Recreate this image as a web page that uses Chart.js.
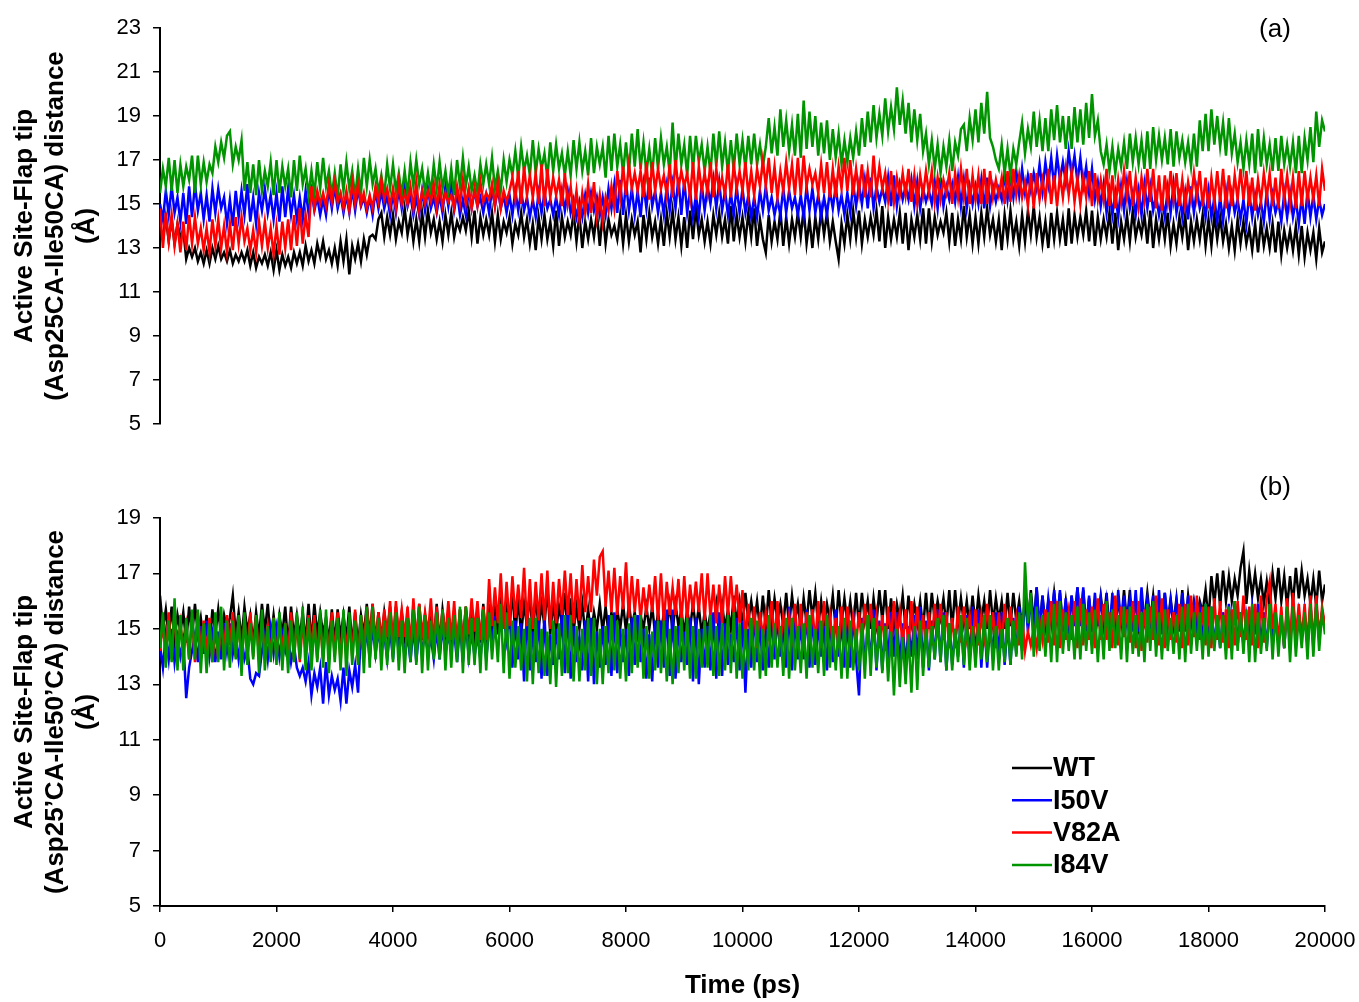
<!DOCTYPE html>
<html lang="en">
<head>
<meta charset="UTF-8">
<title>Active Site-Flap tip distance</title>
<script src="https://cdn.jsdelivr.net/npm/chart.js"></script>
<style>
    body { margin: 0; background: #fff; }
    #wrap { position: relative; width: 1359px; height: 1002px; }
    canvas { position: absolute; left: 0; }
    #chartA { top: 0; }
    #chartB { top: 470px; }
</style>
</head>
<body>
<div id="wrap">
    <canvas id="chartA" width="1359" height="470"></canvas>
    <canvas id="chartB" width="1359" height="532"></canvas>
</div>
<script>
// series names and colours (legend order)
const names = ['WT', 'I50V', 'V82A', 'I84V'];
const colors = ['#000000', '#0000ff', '#ff0000', '#009400'];

// sampling time, ps (one point every 50 ps, one row = 2000 ps)
const time = [];
for (let t = 0; t <= 20000; t += 50) time.push(t);

// panel (a): Asp25CA-Ile50CA distance
const wtA = [
14.0,13.4,14.4,13.3,14.3,13.2,14.1,13.5,13.8,12.5,13.0,12.6,13.0,12.4,12.8,12.3,12.9,12.3,13.0,12.5,13.1,12.5,12.8,12.4,12.9,12.3,12.7,12.4,12.8,12.4,12.9,12.2,12.8,12.1,12.6,12.3,12.7,12.2,12.8,12.0,
12.9,12.0,12.7,12.2,12.6,12.1,12.8,12.3,12.8,12.2,13.1,12.4,12.9,12.3,13.2,12.6,13.3,12.5,12.9,12.3,13.0,12.2,13.3,12.4,13.4,11.8,13.1,12.5,13.2,12.4,13.4,12.7,13.5,13.6,13.4,14.3,14.6,13.5,14.4,13.6,
14.5,13.4,14.2,13.7,14.8,13.6,14.4,13.3,14.3,13.3,14.6,13.5,14.7,13.7,14.3,13.4,14.2,13.3,14.5,13.6,14.6,13.5,14.2,13.8,14.4,13.8,14.7,13.5,14.7,13.2,14.4,13.6,14.3,13.6,14.6,13.3,14.5,13.4,14.2,13.7,
14.4,13.2,14.1,13.6,14.6,13.5,14.3,13.2,14.1,12.9,14.4,13.4,14.5,13.4,14.2,13.1,14.7,13.1,14.4,13.5,14.2,13.6,14.6,13.3,14.5,13.0,14.2,13.4,14.3,13.5,14.6,13.1,14.6,13.2,14.3,13.6,14.0,13.4,14.5,13.2,
14.5,13.3,14.3,13.6,14.2,12.8,14.5,13.4,14.6,13.5,14.2,13.2,14.3,13.1,14.6,13.5,14.7,13.4,14.4,13.1,14.4,13.0,14.7,13.4,14.8,13.6,14.3,13.3,14.2,13.2,14.5,13.6,14.6,13.5,14.3,13.2,14.9,13.3,14.5,13.5,
14.4,13.3,14.6,13.5,14.8,13.1,14.3,13.4,12.8,14.5,13.3,14.2,13.4,14.7,13.1,14.4,13.2,14.3,13.5,14.6,13.5,14.8,13.2,14.3,13.0,14.4,13.4,14.7,13.6,14.6,13.3,14.2,13.3,12.5,14.1,13.2,14.5,13.4,14.7,13.5,
14.7,13.2,14.3,13.5,14.4,13.6,14.7,13.3,14.9,13.0,14.4,13.4,14.3,13.5,14.6,13.2,14.6,12.9,14.3,13.5,14.5,13.4,14.8,13.2,14.8,13.3,14.4,13.6,14.2,13.7,14.6,13.3,14.6,13.1,14.3,13.4,14.9,13.5,14.5,13.2,
14.4,13.2,14.6,13.5,14.8,13.6,14.3,13.3,14.3,12.9,14.5,13.4,14.7,13.4,14.2,13.1,14.5,13.3,14.7,13.6,14.9,13.5,14.4,13.2,14.2,13.0,14.6,13.4,14.6,13.4,14.3,13.1,14.8,13.2,14.5,13.5,14.4,13.6,14.7,13.3,
14.7,13.1,14.4,13.4,14.3,13.5,14.6,13.2,14.6,12.9,14.2,13.4,14.5,13.3,14.7,13.5,14.2,13.6,14.5,13.2,14.7,13.0,14.3,13.4,14.4,13.4,14.6,13.1,14.1,13.2,14.4,13.5,14.5,12.9,14.2,13.3,14.3,13.4,14.5,13.1,
14.3,13.1,14.5,13.4,14.4,13.3,14.1,13.0,14.0,12.9,14.3,13.2,14.2,13.2,13.9,12.9,14.1,12.8,14.2,13.1,13.9,13.0,14.1,12.8,14.2,12.7,13.8,13.0,13.8,12.9,14.0,12.7,14.0,12.6,13.7,12.9,13.7,12.5,13.9,12.8,
13.3];
const i50vA = [
15.0,14.3,15.6,14.5,15.8,14.6,15.3,14.2,15.5,14.1,15.8,14.4,15.9,14.7,15.5,14.3,15.4,14.2,15.7,14.6,15.7,14.8,15.3,14.1,15.2,14.0,15.6,14.4,15.6,14.5,15.9,14.2,15.3,14.1,15.5,14.7,15.7,14.6,15.4,14.3,
15.5,14.2,15.8,14.4,15.7,14.5,15.4,14.3,15.3,14.3,15.6,14.6,15.6,14.7,15.3,14.5,15.2,14.5,15.7,14.8,15.8,14.8,15.4,14.6,15.4,14.6,15.7,14.7,15.7,14.9,15.3,14.6,15.3,14.5,15.6,14.8,15.6,14.8,15.4,14.5,
15.5,14.6,15.7,14.8,15.8,14.9,15.4,14.5,15.3,14.5,15.6,14.7,15.7,14.8,15.3,14.6,15.4,14.6,15.8,14.9,15.9,14.7,15.5,14.5,15.2,14.5,15.6,14.8,15.6,14.9,15.3,14.6,15.4,14.6,15.7,14.9,15.7,14.8,15.4,14.6,
15.4,14.5,15.6,14.7,15.6,14.7,15.3,14.4,15.2,14.4,15.5,14.6,15.5,14.8,15.2,14.5,15.3,14.5,15.6,14.7,15.6,14.6,15.2,14.4,15.1,14.4,15.4,14.6,15.5,14.7,15.3,14.5,15.3,14.5,15.7,14.8,15.9,14.6,16.1,14.5,
16.0,14.7,15.7,14.5,15.6,14.4,15.9,14.8,16.2,14.9,15.6,14.6,15.5,14.5,15.8,14.7,15.9,14.8,16.2,14.5,16.1,14.6,15.6,14.4,15.4,14.4,15.9,14.7,15.8,15.0,16.1,14.8,16.0,14.7,15.6,14.5,15.5,14.5,15.8,14.6,
15.7,14.6,15.4,14.4,15.3,14.4,15.6,14.7,15.8,14.7,15.3,14.5,15.2,14.5,15.7,14.6,15.6,14.8,15.3,14.5,15.4,14.4,15.8,14.7,15.7,14.6,15.4,14.4,15.3,14.5,15.6,14.8,15.8,14.7,15.4,14.5,15.5,14.6,15.9,14.9,
15.9,15.0,16.1,14.8,16.2,14.8,15.8,15.1,15.7,15.1,16.2,14.9,16.3,14.9,15.9,15.2,15.8,15.2,16.1,14.9,16.0,14.8,15.7,15.1,15.6,15.0,16.0,14.8,16.2,14.9,15.8,15.2,15.9,15.1,16.2,14.9,16.1,14.8,15.8,15.0,
15.8,15.0,16.1,14.8,16.2,14.9,15.8,15.1,15.7,15.2,16.4,15.2,16.3,15.3,16.5,15.4,16.6,15.5,16.3,15.6,16.4,15.7,16.8,15.6,16.9,15.9,17.1,15.8,17.2,16.1,16.9,16.0,17.4,16.3,17.2,16.0,17.1,15.8,16.7,15.5,
16.6,15.2,16.0,14.9,15.9,14.6,15.6,14.5,15.5,14.4,15.8,14.7,16.0,14.8,15.5,14.5,15.6,14.5,15.9,14.8,15.8,14.7,15.4,14.5,15.3,14.4,15.7,14.6,15.9,14.6,15.4,14.4,15.5,14.3,15.8,14.6,15.7,14.8,15.3,14.4,
15.6,14.4,15.3,14.2,15.3,14.2,15.6,14.5,15.5,14.6,15.2,14.3,15.2,14.1,15.5,14.4,15.4,14.5,15.1,14.2,15.6,14.3,15.4,14.6,15.1,14.2,15.5,14.4,15.5,14.4,15.2,14.1,15.3,14.1,15.6,14.4,15.4,14.3,15.2,14.5,
15.0];
const v82aA = [
14.8,13.0,14.6,13.3,14.5,13.1,14.1,12.8,14.2,12.9,14.5,13.2,14.4,13.2,13.9,12.9,13.9,12.8,14.3,13.1,14.3,13.0,14.0,12.8,14.1,12.9,14.4,13.2,14.4,13.3,13.9,12.9,13.8,12.8,14.2,13.1,14.2,13.0,13.9,12.7,
14.0,12.7,14.2,13.0,14.3,12.9,14.5,13.1,14.8,13.2,14.5,13.5,15.8,14.8,15.6,15.0,15.5,14.9,15.9,15.1,16.0,15.1,15.5,14.8,15.6,14.7,16.0,15.0,15.9,15.0,15.5,14.8,15.4,14.8,15.8,15.1,16.1,15.2,15.7,14.9,
15.7,14.8,16.0,15.0,15.5,15.0,15.8,14.8,16.0,14.7,15.6,15.0,15.6,15.1,15.9,14.8,15.9,14.9,15.5,15.1,15.4,14.8,15.8,15.0,16.1,15.0,15.7,14.8,15.7,14.9,16.0,15.1,15.5,15.2,15.9,14.9,16.0,14.8,15.6,15.1,
15.6,16.2,15.2,16.5,15.0,16.7,15.4,16.3,15.3,16.4,15.0,16.8,14.9,16.6,15.3,16.2,15.4,16.1,14.9,16.4,15.0,15.8,14.5,15.6,14.3,15.5,14.6,15.9,14.6,16.0,14.4,15.4,14.2,15.3,14.7,15.8,14.8,16.5,15.3,16.7,
15.4,16.8,15.7,16.4,15.6,16.5,15.3,16.9,15.2,16.9,15.6,16.6,15.7,16.3,15.4,16.8,15.3,17.0,15.7,16.5,15.8,16.4,15.3,16.9,15.2,16.7,15.6,16.4,15.5,16.9,15.3,16.6,15.6,16.2,15.4,16.8,15.3,16.8,15.7,16.5,
15.6,16.9,15.4,16.5,15.4,16.6,15.8,17.0,15.8,17.1,15.5,16.7,15.3,16.5,15.6,16.9,15.7,16.8,15.4,17.1,15.4,17.2,15.8,16.6,15.9,16.4,15.5,16.8,15.5,16.9,15.3,16.6,15.3,16.7,15.7,17.1,15.6,17.0,15.4,16.6,
15.5,16.8,15.3,16.5,15.3,17.2,15.6,16.7,15.7,16.4,15.2,16.5,15.1,16.2,15.4,16.4,15.4,16.6,15.1,16.3,15.0,16.3,15.4,16.5,15.5,16.5,15.1,16.2,15.2,16.1,15.5,16.4,15.0,16.4,15.3,16.6,15.3,16.6,15.0,16.3,
15.2,16.3,15.0,16.6,15.0,16.5,15.3,16.1,15.4,16.2,15.0,16.5,15.1,16.6,15.4,16.3,15.3,16.0,14.9,16.4,14.8,16.4,15.2,16.1,15.2,16.6,15.0,16.3,14.9,16.3,15.3,16.6,15.4,16.5,15.1,16.2,15.0,16.2,15.3,16.5,
14.9,16.4,15.2,16.1,15.2,16.6,14.9,16.3,14.8,16.1,15.1,16.5,15.3,16.5,14.9,16.2,14.9,16.2,15.2,16.6,15.1,16.6,14.8,16.3,14.7,16.3,15.1,16.5,15.2,16.4,14.9,16.1,14.9,16.0,15.2,16.4,15.3,16.5,14.9,16.2,
14.8,16.2,15.1,16.5,15.1,16.6,14.8,16.3,14.9,16.3,15.2,16.6,15.2,16.5,14.9,16.2,14.7,16.1,15.1,16.4,15.3,16.4,14.9,16.2,14.8,16.6,15.2,16.3,15.0,16.2,14.8,16.5,14.9,16.5,15.2,16.2,15.2,16.3,14.9,16.6,
15.6];
const i84vA = [
15.5,16.6,15.8,17.1,15.6,17.0,15.5,16.8,15.8,16.7,16.1,17.2,15.5,17.2,15.9,16.9,16.0,16.8,16.4,17.6,16.9,17.8,17.1,18.1,18.3,16.8,17.6,17.0,17.9,15.6,16.9,15.5,16.8,15.4,17.0,15.6,16.5,15.8,16.9,15.4,
17.0,15.5,16.7,15.8,16.6,15.3,17.0,15.6,17.2,15.9,16.6,15.4,16.5,15.4,16.9,15.7,17.1,15.8,16.5,15.4,16.4,15.3,16.8,15.6,16.9,15.7,16.5,15.3,16.6,15.5,17.1,15.8,17.0,15.9,16.6,15.5,16.3,15.4,16.8,15.7,
16.8,15.6,16.4,15.4,16.5,15.4,16.9,15.8,17.0,15.9,16.6,15.5,16.4,15.5,16.8,15.7,16.9,15.7,16.5,15.4,16.6,15.4,17.0,15.8,17.1,15.8,16.7,15.6,16.3,15.5,16.8,15.9,16.8,15.9,17.1,15.7,16.5,15.6,17.0,16.0,
17.0,16.3,17.4,16.2,17.6,16.5,17.2,16.3,17.9,16.4,17.5,16.6,17.3,16.2,17.8,16.5,17.7,16.6,17.3,16.3,17.4,16.3,17.9,16.6,17.8,16.5,17.4,16.3,18.0,16.4,17.6,16.8,17.6,16.2,18.1,16.5,18.2,16.7,17.7,16.4,
17.8,16.4,18.2,16.7,18.4,16.6,17.8,16.4,17.5,16.3,18.0,16.6,18.0,16.8,17.6,16.4,18.7,16.5,18.2,16.8,17.7,16.3,18.1,16.6,18.1,16.9,17.7,16.5,17.6,16.4,18.2,16.7,18.3,16.7,17.8,16.4,17.9,16.5,18.2,16.8,
17.9,16.6,18.1,16.8,18.2,16.8,17.7,16.7,17.6,18.9,17.3,18.5,17.2,19.3,17.6,18.8,17.4,18.6,17.2,19.1,17.1,19.7,17.5,19.2,17.6,19.0,17.2,18.7,17.3,18.8,17.0,18.4,17.1,18.2,16.8,17.9,16.9,18.0,17.1,18.3,
17.2,18.9,17.6,19.2,17.8,19.5,18.0,19.1,18.1,19.8,18.3,19.4,18.4,20.3,18.6,19.7,18.2,19.6,17.8,19.3,17.9,19.1,17.4,18.2,16.8,17.9,16.6,17.7,16.4,17.6,16.7,17.9,16.5,17.8,17.2,18.4,18.6,17.4,18.9,17.9,
19.3,17.8,19.6,18.2,20.1,18.0,17.6,17.0,16.6,17.7,16.4,17.5,16.3,17.5,16.8,17.8,18.7,17.3,18.4,17.6,19.2,17.6,18.8,17.4,18.9,17.4,19.3,17.9,19.5,17.8,19.0,17.5,19.0,17.5,19.4,17.8,19.3,17.7,19.6,18.0,
20.0,18.1,18.8,17.4,16.8,17.7,16.5,17.6,16.4,17.5,16.7,17.8,16.6,18.2,16.9,18.0,16.8,17.9,16.6,18.3,16.6,18.5,17.0,18.1,17.0,18.0,16.8,18.4,16.7,18.3,17.1,17.9,16.9,17.8,16.7,18.2,16.7,18.8,17.4,19.1,
17.4,19.3,17.7,19.0,17.6,18.7,17.2,18.9,17.3,18.2,16.9,17.8,16.6,17.9,16.8,18.2,16.4,18.4,16.7,18.0,16.8,17.7,16.5,18.0,16.5,18.1,16.8,17.7,16.7,17.8,16.4,18.1,16.4,18.0,17.0,18.5,16.9,19.2,17.6,18.8,
18.3];

// panel (b): Asp25'CA-Ile50'CA distance
const wtB = [
16.2,15.0,15.7,14.7,15.8,14.6,15.5,14.9,15.6,14.5,15.8,14.7,15.9,14.8,15.4,14.5,15.5,14.4,15.7,14.8,15.7,14.7,15.5,15.0,15.4,16.2,14.8,15.6,14.6,15.8,14.9,15.5,14.5,15.6,14.7,15.9,14.9,15.9,14.6,15.5,
14.6,15.5,14.8,15.8,14.4,15.8,14.7,15.5,14.7,15.6,14.5,15.9,14.5,15.9,14.8,15.6,14.8,15.4,14.5,15.7,14.5,15.7,14.7,15.5,14.6,15.8,14.4,15.6,14.4,15.5,14.8,15.9,14.7,15.9,14.5,15.6,14.6,15.6,14.8,15.8,
14.5,15.8,14.7,15.6,14.7,15.5,14.4,15.8,14.4,15.9,14.6,15.5,14.8,15.6,14.5,15.9,14.5,15.7,14.8,15.5,14.6,15.4,14.4,15.7,14.5,15.8,14.7,15.6,14.7,15.6,14.5,15.9,14.4,15.9,14.8,15.7,14.8,16.3,15.0,16.0,
15.0,16.4,14.8,16.1,14.8,15.9,15.1,16.3,14.7,16.2,15.0,15.9,15.1,16.5,14.8,16.0,14.9,15.8,15.2,16.3,14.7,16.1,14.9,15.8,15.0,15.9,14.8,15.7,14.8,15.6,15.0,15.9,14.9,15.8,14.8,15.6,14.8,15.7,15.0,15.9,
14.9,15.9,15.1,15.6,14.8,15.5,15.0,15.8,15.0,15.8,14.8,15.6,14.8,15.6,15.0,15.9,14.9,15.9,15.1,15.7,14.8,15.7,15.0,15.9,15.0,15.8,14.8,15.6,14.9,15.6,15.1,15.9,14.8,15.9,15.0,15.7,15.0,16.2,15.2,16.0,
15.1,16.3,15.3,16.0,15.2,16.0,15.0,16.2,15.0,16.4,15.2,16.1,15.3,15.9,15.1,16.3,15.1,16.2,15.3,15.9,15.0,16.1,15.2,16.4,15.4,16.3,15.1,16.0,15.1,15.9,15.3,16.2,15.0,16.4,15.2,16.1,15.2,16.0,15.0,16.3,
15.1,16.3,15.3,16.0,15.0,16.1,15.2,16.4,15.3,16.4,15.0,16.1,15.1,15.9,15.3,16.2,15.0,16.2,15.2,15.9,15.2,16.0,15.0,16.3,15.0,16.3,15.3,16.0,15.4,16.1,15.1,16.4,15.0,16.4,15.2,16.1,15.2,16.0,15.0,16.2,
15.1,16.2,15.3,16.0,15.0,16.4,15.2,16.1,15.3,16.0,15.0,16.3,15.1,16.3,15.3,16.0,15.0,16.1,15.2,16.4,15.2,16.5,15.0,16.2,15.1,16.0,15.3,16.3,15.3,16.3,15.1,16.0,15.0,16.2,15.2,16.5,15.2,16.4,15.0,16.1,
15.1,16.0,15.3,16.2,15.3,16.3,15.0,16.0,15.0,16.1,15.2,16.4,15.2,16.4,15.0,16.1,15.1,16.0,15.3,16.3,15.3,16.2,15.1,16.0,15.0,16.3,15.2,16.1,15.2,16.1,15.0,16.4,15.0,16.2,15.3,16.0,15.4,16.0,15.6,16.4,
15.3,16.9,15.9,17.0,15.8,17.1,16.0,16.9,16.0,16.8,16.2,17.2,17.8,15.9,17.1,16.2,17.0,16.1,16.8,15.9,16.7,15.8,17.0,16.1,17.2,16.0,16.9,15.8,16.9,15.9,17.2,16.1,17.1,16.2,16.8,15.9,16.8,15.8,17.1,16.0,
16.6];
const i50vB = [
14.4,13.6,14.8,13.9,15.0,13.8,14.7,14.0,14.6,12.5,13.6,14.2,14.8,13.8,15.1,14.1,15.3,14.0,14.8,13.8,14.9,13.9,15.2,14.2,15.2,14.1,14.8,13.9,14.7,13.9,14.3,13.2,13.0,13.4,13.3,14.2,14.8,13.9,15.0,14.1,
15.0,14.0,14.8,14.2,14.7,13.8,14.4,13.6,13.3,13.6,13.1,13.8,12.6,13.4,12.9,13.6,12.3,13.8,12.6,13.3,12.8,13.2,12.4,13.6,12.3,13.5,12.9,13.7,12.7,14.9,14.0,15.0,13.9,15.1,14.1,14.9,14.2,14.8,13.9,15.0,
13.9,15.2,14.1,14.9,14.0,14.8,13.8,15.1,13.8,15.0,14.2,14.8,14.1,14.7,13.9,15.0,13.9,15.1,14.1,14.8,14.2,14.9,13.8,15.2,13.8,15.2,14.0,14.9,14.0,14.8,13.9,15.1,13.9,15.0,14.6,15.4,15.6,15.3,15.5,14.6,
15.7,13.6,15.3,13.9,15.2,13.1,15.6,13.5,14.9,13.8,15.4,13.2,15.5,13.3,14.8,13.7,15.0,13.9,15.6,13.4,15.8,13.2,15.1,13.8,14.7,13.5,15.3,13.1,15.4,13.0,14.9,13.6,15.1,13.7,15.5,13.3,15.6,13.4,15.0,13.8,
15.0,13.3,15.4,13.7,15.5,13.8,15.0,13.2,14.8,13.1,15.3,13.6,15.3,13.6,15.7,13.3,15.7,13.2,15.1,13.8,14.9,13.7,15.4,13.1,15.4,13.0,15.0,13.6,15.1,13.5,15.6,13.2,15.6,13.3,15.2,13.7,14.8,13.8,15.4,13.5,
15.3,12.7,15.0,13.6,15.6,13.8,15.2,13.5,15.0,13.6,15.5,13.9,15.5,14.0,15.1,13.6,15.8,13.5,15.4,13.9,15.2,13.9,15.7,13.6,15.6,13.7,15.2,14.0,15.1,13.5,15.5,13.8,15.7,14.0,15.3,13.6,15.3,13.6,15.6,13.9,
12.6,15.4,13.7,15.1,13.8,15.7,13.5,15.3,13.5,15.2,13.9,15.6,14.0,15.6,13.6,15.2,13.6,15.1,14.0,15.5,13.9,15.8,13.6,15.3,13.5,15.3,13.9,15.7,13.8,15.6,13.5,15.2,13.7,15.0,14.0,15.4,13.6,15.5,13.9,15.8,
13.9,15.7,13.6,15.3,13.6,15.2,14.0,15.6,14.0,15.6,13.7,15.2,13.7,15.4,14.1,15.8,14.2,16.3,14.9,16.0,15.0,16.5,14.8,16.2,14.9,16.1,15.2,16.4,15.2,16.4,14.9,16.1,14.8,16.2,15.1,16.5,15.1,16.5,14.9,16.2,
14.9,16.3,15.1,16.1,15.1,16.0,14.8,16.3,14.8,16.4,15.1,16.2,15.2,16.1,14.9,16.4,14.9,16.5,15.2,16.1,15.0,16.2,14.8,16.4,14.8,16.3,15.1,16.0,15.1,16.0,14.9,16.3,14.9,16.2,15.1,15.9,15.0,15.7,14.6,15.9,
14.5,15.8,14.4,15.5,14.3,15.6,14.7,15.9,14.7,16.0,14.4,15.6,14.4,15.5,14.8,15.8,14.8,15.9,14.4,15.6,14.3,15.7,14.7,15.4,14.6,15.4,14.3,15.8,14.4,16.0,14.7,15.6,14.7,15.6,14.4,15.9,14.5,15.9,14.8,15.6,
15.2];
const v82aB = [
14.2,15.3,14.0,15.6,13.9,15.5,14.3,15.2,14.3,15.1,13.9,15.4,13.8,15.6,14.2,15.3,14.1,15.4,13.8,15.1,13.9,15.2,14.3,15.5,14.4,15.6,14.0,15.3,13.8,15.3,14.2,15.6,14.0,15.5,13.9,15.2,14.2,15.1,14.0,15.4,
13.9,15.4,14.2,15.2,14.1,15.6,13.9,15.3,13.8,15.2,14.2,15.5,14.3,15.5,13.9,15.2,13.9,15.3,14.1,15.6,14.0,15.6,13.8,15.4,14.2,15.4,14.0,15.7,13.8,15.5,14.4,15.8,14.6,15.9,14.4,15.6,14.5,15.7,14.7,16.0,
14.4,16.0,14.7,15.7,14.7,15.8,14.4,16.1,14.5,15.9,14.8,15.6,14.8,16.1,14.5,15.8,14.4,15.7,14.7,16.0,14.6,16.0,14.4,15.7,14.5,15.8,14.8,16.1,14.9,16.0,14.6,15.8,14.6,16.8,15.1,16.5,15.2,17.0,15.0,16.7,
15.1,16.9,15.4,16.6,15.4,17.2,15.1,16.8,15.0,16.7,15.3,17.0,15.3,17.1,15.0,16.7,15.2,16.8,15.5,17.1,15.5,17.0,15.2,16.8,15.3,17.3,15.6,16.9,15.6,17.5,16.2,17.6,17.8,15.8,17.1,15.6,17.2,15.5,16.9,15.7,
17.4,15.4,16.9,15.6,16.8,15.3,16.5,15.5,16.6,15.6,16.9,15.3,17.0,15.2,16.7,15.5,16.5,15.5,16.8,15.2,16.9,15.3,16.6,15.6,16.7,15.6,17.0,15.3,17.0,15.4,16.6,15.2,16.6,15.2,16.9,15.5,16.9,15.5,16.6,15.2,
16.4,14.6,15.9,14.4,15.8,14.3,15.6,14.7,15.6,14.8,16.0,14.5,16.0,14.4,15.5,14.8,15.5,14.7,15.9,14.3,15.9,14.2,15.6,14.6,15.7,14.5,16.0,14.3,16.0,14.6,15.5,14.4,15.4,14.3,15.8,14.7,15.8,14.7,15.5,14.4,
15.6,14.4,15.9,14.7,15.9,14.6,15.5,14.3,15.5,14.2,15.8,14.6,16.0,14.7,15.6,14.4,15.7,14.3,16.0,14.6,15.8,14.5,15.5,14.3,15.6,14.4,15.9,14.7,15.9,14.6,15.6,14.3,15.4,14.3,15.8,14.5,15.8,14.7,15.5,14.4,
15.7,14.4,15.5,14.7,15.9,14.5,15.6,14.3,15.6,14.3,15.9,14.6,15.8,14.6,15.4,14.4,15.5,14.2,14.9,14.4,15.0,14.3,15.3,14.6,15.7,14.5,16.0,14.4,16.0,14.3,15.7,14.6,15.6,14.6,16.0,14.3,16.1,14.4,15.7,14.6,
15.8,14.3,16.1,14.6,15.9,14.6,15.6,14.3,16.2,14.4,15.8,14.7,15.7,14.5,16.0,14.3,16.0,14.2,15.7,14.5,15.8,14.6,16.2,14.4,16.1,14.3,15.7,14.6,15.6,14.5,15.9,14.3,15.9,14.4,16.2,14.7,16.2,14.6,15.8,14.4,
15.8,14.3,16.1,14.6,16.0,14.5,15.7,14.3,15.7,14.4,16.0,14.7,16.2,14.6,15.8,14.4,15.9,14.3,16.2,14.5,16.1,16.7,15.0,15.9,14.5,15.8,14.3,16.1,14.4,16.3,14.7,15.9,14.6,15.9,14.4,16.2,14.3,16.2,14.6,15.8,
15.1];
const i84vB = [
14.3,15.6,13.6,15.3,13.8,16.1,13.5,15.5,13.5,15.4,13.9,15.7,13.9,15.7,13.4,15.2,13.4,15.2,13.8,15.6,13.8,15.8,13.5,15.3,13.6,15.3,13.9,15.5,13.3,15.6,13.7,15.2,13.9,15.5,13.4,15.7,13.5,15.1,13.8,15.4,
13.7,15.6,13.5,15.2,13.4,15.3,13.8,15.6,13.9,15.8,13.5,15.4,13.5,15.2,13.8,15.7,13.6,15.7,13.4,15.3,13.8,15.4,13.5,15.7,13.3,15.6,13.7,15.3,13.7,15.5,13.4,15.8,13.6,15.8,13.9,15.4,13.5,15.3,13.7,15.6,
13.8,15.6,13.5,15.3,13.4,15.4,13.8,15.7,13.7,15.8,13.4,15.5,13.5,15.3,13.9,15.6,13.9,15.7,13.5,15.4,13.6,15.5,13.8,15.8,13.4,15.8,13.7,15.4,13.7,15.4,13.4,15.7,13.5,15.6,13.9,15.3,13.8,15.9,13.4,15.6,
13.2,15.3,13.6,15.1,13.5,15.0,13.1,15.4,13.0,15.4,13.4,15.0,13.3,14.9,13.0,15.3,12.9,15.2,13.3,15.5,13.4,15.5,13.1,15.1,13.1,15.0,13.5,15.4,13.3,15.4,13.0,15.0,13.0,15.1,13.4,15.5,13.5,15.3,13.2,15.0,
13.1,15.2,13.4,15.5,13.6,15.5,13.2,15.1,13.2,14.9,13.5,15.3,13.4,15.3,13.1,15.0,13.0,15.1,13.4,15.4,13.5,15.4,13.2,15.1,13.2,15.0,13.6,15.3,13.6,15.5,13.3,15.1,13.3,15.2,13.5,15.5,13.4,15.6,13.2,15.2,
13.2,15.0,13.5,15.4,13.5,15.3,13.2,15.0,13.3,15.5,13.6,15.2,13.6,15.1,13.3,15.4,13.2,15.4,13.5,15.1,13.4,15.2,13.2,15.5,13.6,15.0,13.4,15.3,13.3,15.5,13.6,15.1,13.5,15.1,13.2,15.4,13.2,15.3,13.5,15.0,
13.5,15.2,13.2,15.5,13.3,15.4,13.6,15.1,13.4,15.1,13.1,14.9,12.6,15.0,12.9,14.7,13.0,14.8,12.7,15.1,12.8,15.3,13.3,15.0,13.6,15.1,13.9,15.4,13.8,15.5,13.5,15.2,13.5,15.0,13.8,15.5,13.7,15.4,13.5,15.1,
13.6,15.2,13.9,15.5,13.8,15.5,13.5,15.1,13.5,15.0,13.8,15.4,13.7,15.3,14.0,15.6,13.9,17.4,15.2,16.3,14.0,15.8,14.2,15.5,14.0,15.6,13.8,15.9,13.8,16.0,14.1,15.6,14.2,15.5,13.9,15.8,13.9,15.9,14.2,15.6,
14.1,15.7,13.8,15.5,13.9,16.0,14.2,15.7,14.3,15.5,13.9,15.8,13.8,15.8,14.1,15.5,14.0,15.6,13.8,15.9,14.2,16.0,14.0,15.6,13.9,15.7,14.2,15.4,14.1,15.5,13.9,15.8,13.8,15.9,14.1,15.6,14.2,15.6,13.9,15.9,
14.0,15.8,14.2,15.5,14.3,15.5,13.9,15.8,13.9,16.0,14.2,15.6,14.1,15.7,13.8,15.9,13.8,15.6,14.1,15.4,14.2,15.9,13.9,15.6,14.0,15.5,14.3,15.8,13.8,15.8,14.0,15.5,14.3,15.6,13.9,15.9,14.0,15.9,14.2,15.6,
14.8];

// axis ticks
const xTicks = { min: 0, max: 20000, step: 2000 };
const yTicksA = { min: 5, max: 23, step: 2 };
const yTicksB = { min: 5, max: 19, step: 2 };

const FONT = '"Liberation Sans", Arial, Helvetica, sans-serif';
Chart.defaults.font.family = FONT;
Chart.defaults.color = '#000';

function series(i, values, order) {
    return {
        label: names[i],
        data: time.map((t, k) => ({ x: t, y: values[k] })),
        borderColor: colors[i],
        backgroundColor: colors[i],
        borderWidth: 2.5,
        pointRadius: 0,
        tension: 0,
        order: order
    };
}

function yAxis(ticks, title) {
    return {
        min: ticks.min,
        max: ticks.max,
        ticks: { stepSize: ticks.step, font: { size: 22 }, padding: 12, color: '#000' },
        grid: { drawOnChartArea: false, drawTicks: true, tickLength: 7, color: '#000', lineWidth: 1.5 },
        border: { display: true, color: '#000', width: 2 },
        title: {
            display: true,
            text: title,
            color: '#000',
            font: { size: 26, weight: 'bold', lineHeight: 1.2 },
            padding: { top: 9, bottom: 0 }
        },
        afterFit: s => { s.width = 160; }
    };
}

// "(a)" / "(b)" panel tag
const panelTag = {
    id: 'panelTag',
    afterDraw(chart, args, opts) {
        const ctx = chart.ctx;
        ctx.save();
        ctx.font = '26px ' + FONT;
        ctx.fillStyle = '#000';
        ctx.textAlign = 'center';
        ctx.textBaseline = 'middle';
        ctx.fillText(opts.text, opts.x, opts.y);
        ctx.restore();
    }
};

// legend drawn inside panel (b)
const innerLegend = {
    id: 'innerLegend',
    afterDraw(chart, args, opts) {
        if (!opts.show) return;
        const ctx = chart.ctx;
        ctx.save();
        ctx.font = 'bold 27px ' + FONT;
        ctx.textBaseline = 'middle';
        ctx.textAlign = 'left';
        chart.data.datasets.forEach((ds, i) => {
            const y = opts.y + i * opts.gap;
            ctx.strokeStyle = ds.borderColor;
            ctx.lineWidth = 2.5;
            ctx.beginPath();
            ctx.moveTo(opts.x, y);
            ctx.lineTo(opts.x + 40, y);
            ctx.stroke();
            ctx.fillStyle = '#000';
            ctx.fillText(ds.label, opts.x + 41, y + 1);
        });
        ctx.restore();
    }
};

// panel (a)
new Chart(document.getElementById('chartA'), {
    type: 'line',
    data: {
        datasets: [
            series(0, wtA, 3),
            series(1, i50vA, 2),
            series(2, v82aA, 0),
            series(3, i84vA, 1)
        ]
    },
    options: {
        responsive: false,
        animation: false,
        devicePixelRatio: 1,
        layout: { padding: { top: 28, right: 34, bottom: 46, left: 0 } },
        scales: {
            x: { type: 'linear', min: xTicks.min, max: xTicks.max, display: false },
            y: yAxis(yTicksA, ['Active Site-Flap tip', '(Asp25CA-Ile50CA) distance', '(Å)'])
        },
        plugins: {
            legend: { display: false },
            tooltip: { enabled: false },
            panelTag: { text: '(a)', x: 1275, y: 30 },
            innerLegend: { show: false }
        }
    },
    plugins: [panelTag, innerLegend]
});

// panel (b)
new Chart(document.getElementById('chartB'), {
    type: 'line',
    data: {
        datasets: [
            series(0, wtB, 3),
            series(1, i50vB, 2),
            series(2, v82aB, 1),
            series(3, i84vB, 0)
        ]
    },
    options: {
        responsive: false,
        animation: false,
        devicePixelRatio: 1,
        layout: { padding: { top: 48, right: 34, bottom: 0, left: 0 } },
        scales: {
            x: {
                type: 'linear',
                min: xTicks.min,
                max: xTicks.max,
                ticks: {
                    stepSize: xTicks.step, font: { size: 22, lineHeight: 2.4 }, padding: 3,
                    maxRotation: 0, autoSkip: false, color: '#000',
                    callback: v => String(v)
                },
                grid: { drawOnChartArea: false, drawTicks: true, tickLength: 6, color: '#000', lineWidth: 1.5 },
                border: { display: true, color: '#000', width: 2 },
                title: {
                    display: true,
                    text: 'Time (ps)',
                    color: '#000',
                    font: { size: 26, weight: 'bold', lineHeight: 1.2 },
                    padding: { top: 0, bottom: 1 }
                },
                afterFit: s => { s.height = 96; }
            },
            y: yAxis(yTicksB, ['Active Site-Flap tip', '(Asp25\u2019CA-Ile50\u2019CA) distance', '(Å)'])
        },
        plugins: {
            legend: { display: false },
            tooltip: { enabled: false },
            panelTag: { text: '(b)', x: 1275, y: 18 },
            innerLegend: { show: true, x: 1012, y: 298, gap: 32.3 }
        }
    },
    plugins: [panelTag, innerLegend]
});
</script>
</body>
</html>
